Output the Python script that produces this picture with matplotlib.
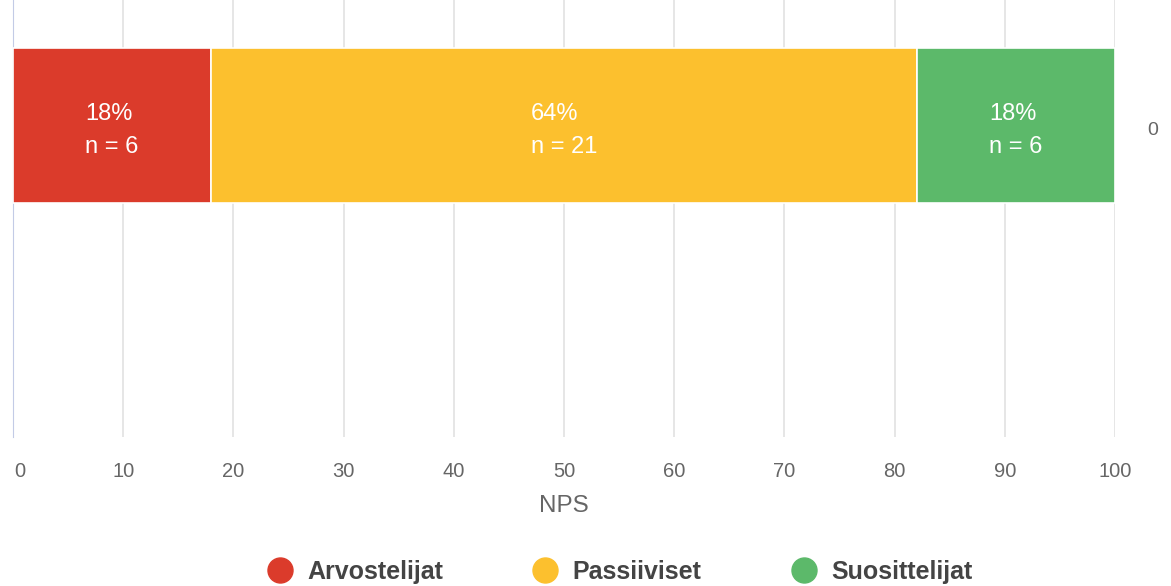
import matplotlib.pyplot as plt
from matplotlib.lines import Line2D
from matplotlib.transforms import ScaledTranslation

plt.rcParams["font.family"] = ["Liberation Sans", "DejaVu Sans"]

categories = ["Arvostelijat", "Passiiviset", "Suosittelijat"]
percents = [18, 64, 18]
counts = [6, 21, 6]
nps_score = 0
colors = ["#db3b2b", "#fcc02e", "#5cb96a"]

fig = plt.figure(figsize=(11.71, 5.86), dpi=100)
ax = fig.add_axes([13 / 1171, 1 - 437 / 586, (1115 - 13) / 1171, 437 / 586])

left = 0
for cat, p, n, c in zip(categories, percents, counts, colors):
    ax.barh(0, p, left=left, height=1.0, color=c, edgecolor="white", linewidth=1.2, zorder=3)
    ax.text(left + p / 2, -0.035, f"{p}%\nn = {n}", ha="center", va="center",
            multialignment="left", color="white", fontsize=17, linespacing=1.65, zorder=4)
    left += p

ax.text(103.4, -0.03, str(nps_score), ha="center", va="center", color="#666666", fontsize=14)

ax.set_xlim(0, 100)
ax.set_ylim(-2.01, 0.81)
ax.set_xticks(range(0, 101, 10))
ax.set_yticks([])
ax.grid(axis="x", color="#e2e2e2", linewidth=1.2, zorder=0)
for s in ["top", "right", "bottom"]:
    ax.spines[s].set_visible(False)
ax.spines["left"].set_color("#c3cbe6")
ax.tick_params(axis="x", length=0, pad=18, labelsize=14.5, labelcolor="#666666")
ax.set_xlabel("NPS", fontsize=17.5, color="#666666", labelpad=10)

# first tick label is nudged right in the original
fig.canvas.draw()
first = ax.get_xticklabels()[0]
first.set_transform(first.get_transform() + ScaledTranslation(0.07, 0, fig.dpi_scale_trans))

handles = [Line2D([], [], marker="o", linestyle="", markersize=18, color=c) for c in colors]
leg = fig.legend(handles, categories, loc="center", ncol=3, frameon=False,
                 bbox_to_anchor=(620 / 1171, 1 - 572 / 586), columnspacing=3.6,
                 handlelength=1.0, handletextpad=0.6, prop={"weight": "bold", "size": 18})
for t in leg.get_texts():
    t.set_color("#444444")

fig.savefig("out.png", dpi=100)
